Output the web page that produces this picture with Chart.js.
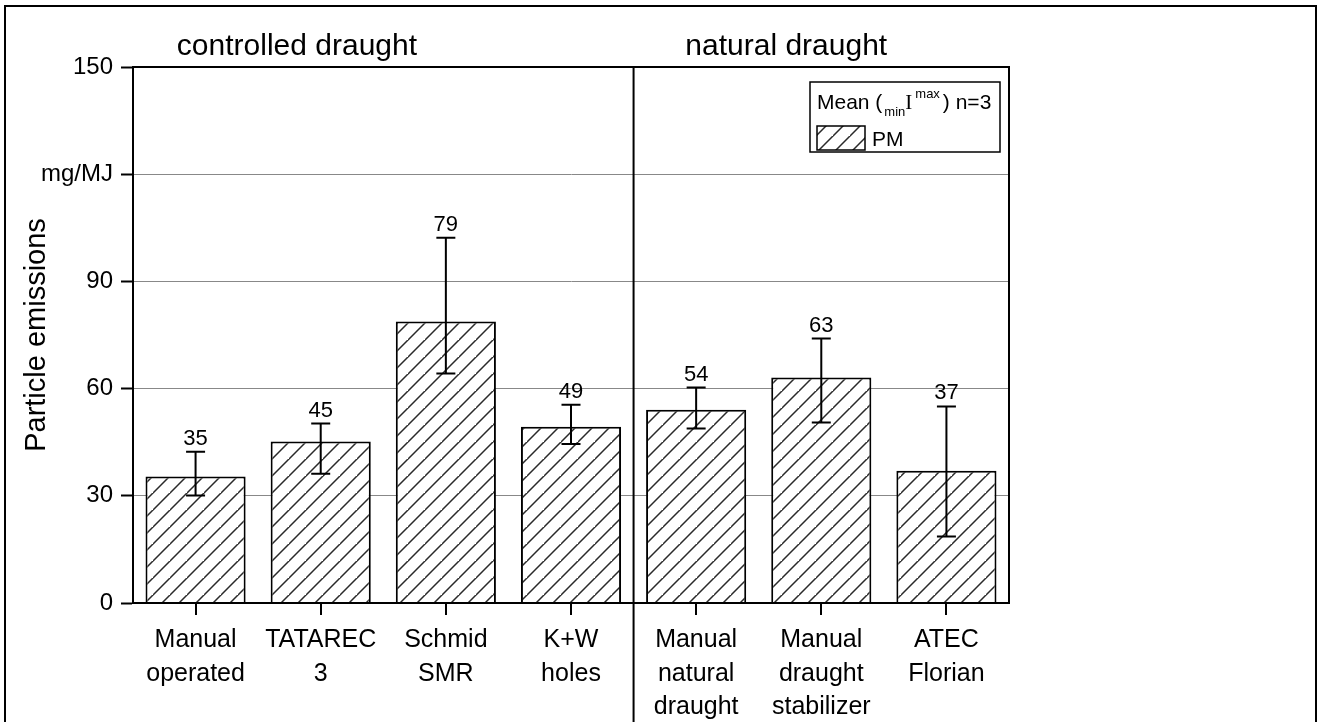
<!DOCTYPE html>
<html><head><meta charset="utf-8">
<script src="https://cdn.jsdelivr.net/npm/chart.js@4"></script>
<style>html,body{margin:0;padding:0;background:#fff;}#wrap{width:1319px;height:722px;position:relative;}</style>
</head><body><div id="wrap"><canvas id="c" width="1319" height="722"></canvas></div>
<script>
const categories = [["Manual","operated"],["TATAREC","3"],["Schmid","SMR"],["K+W","holes"],["Manual","natural","draught"],["Manual","draught","stabilizer"],["ATEC","Florian"]];
const pmMean = [35.4, 45.2, 78.8, 49.3, 54.1, 63.1, 37.0];
const pmMin  = [30.1, 36.2, 64.2, 44.5, 48.8, 50.5, 18.6];
const pmMax  = [42.3, 50.2, 102.2, 55.5, 60.3, 74.0, 55.0];
const yTickValues = [0, 30, 60, 90, 120, 150];
const yTickLabels = ["0", "30", "60", "90", "mg/MJ", "150"];
const groupTitles = ["controlled draught", "natural draught"];
const groupTitlePos = [0.81, 4.72];
const groupBoundary = 3.5;
const seriesName = "PM";

const FONT = "'Liberation Sans', Arial, sans-serif";

function makeHatch() {
  const s = 17;
  const p = document.createElement('canvas');
  p.width = s; p.height = s;
  const g = p.getContext('2d');
  g.fillStyle = '#fff'; g.fillRect(0, 0, s, s);
  g.strokeStyle = '#2a2a2a'; g.lineWidth = 1.5;
  g.beginPath();
  g.moveTo(-2, s + 2); g.lineTo(s + 2, -2);
  g.moveTo(-2 - s, s + 2); g.lineTo(2, -2);
  g.moveTo(s - 2, 2 * s + 2); g.lineTo(2 * s + 2, s - 2);
  g.stroke();
  return document.getElementById('c').getContext('2d').createPattern(p, 'repeat');
}
const hatch = makeHatch();

const decor = {
  id: 'decor',
  afterDatasetsDraw(chart) {
    const ctx = chart.ctx;
    const xs = chart.scales.x, ys = chart.scales.y;
    ctx.save();
    ctx.strokeStyle = '#000'; ctx.lineWidth = 2;
    for (let i = 0; i < pmMean.length; i++) {
      const x = xs.getPixelForValue(i);
      const y1 = ys.getPixelForValue(pmMin[i]), y2 = ys.getPixelForValue(pmMax[i]);
      ctx.beginPath();
      ctx.moveTo(x, y1); ctx.lineTo(x, y2);
      ctx.moveTo(x - 9.5, y1); ctx.lineTo(x + 9.5, y1);
      ctx.moveTo(x - 9.5, y2); ctx.lineTo(x + 9.5, y2);
      ctx.stroke();
      ctx.fillStyle = '#000';
      ctx.font = '22px ' + FONT;
      ctx.textAlign = 'center'; ctx.textBaseline = 'alphabetic';
      ctx.fillText(String(Math.round(pmMean[i])), x, y2 - 7);
    }
    ctx.restore();
  },
  afterDraw(chart) {
    const ctx = chart.ctx, a = chart.chartArea;
    const xs = chart.scales.x;
    ctx.save();
    ctx.strokeStyle = '#000'; ctx.lineWidth = 2;
    ctx.strokeRect(a.left, a.top, a.right - a.left, a.bottom - a.top);
    const sx = xs.getPixelForValue(groupBoundary);
    ctx.beginPath(); ctx.moveTo(sx, a.top); ctx.lineTo(sx, chart.height); ctx.stroke();
    ctx.fillStyle = '#000';
    ctx.font = '30px ' + FONT;
    ctx.textAlign = 'center'; ctx.textBaseline = 'alphabetic';
    for (let i = 0; i < groupTitles.length; i++) {
      ctx.fillText(groupTitles[i], xs.getPixelForValue(groupTitlePos[i]), a.top - 12);
    }
    const lx = 810, ly = 82, lw = 190, lh = 70;
    ctx.fillStyle = '#fff'; ctx.fillRect(lx, ly, lw, lh);
    ctx.lineWidth = 1.5; ctx.strokeStyle = '#000';
    ctx.strokeRect(lx, ly, lw, lh);
    ctx.fillStyle = '#000'; ctx.textAlign = 'left';
    let cx = lx + 7;
    const bl = ly + 27;
    ctx.font = '21px ' + FONT; ctx.fillText('Mean (', cx, bl); cx += ctx.measureText('Mean (').width + 2;
    ctx.font = '13px ' + FONT; ctx.fillText('min', cx, bl + 7); cx += ctx.measureText('min').width;
    ctx.font = "21px 'Liberation Serif', 'Times New Roman', serif"; ctx.fillText('I', cx, bl); cx += ctx.measureText('I').width + 3;
    ctx.font = '13px ' + FONT; ctx.fillText('max', cx, bl - 11); cx += ctx.measureText('max').width + 3;
    ctx.font = '21px ' + FONT; ctx.fillText(') n=3', cx, bl);
    ctx.fillStyle = hatch; ctx.fillRect(lx + 7, ly + 44, 48, 24);
    ctx.strokeRect(lx + 7, ly + 44, 48, 24);
    ctx.fillStyle = '#000'; ctx.font = '21px ' + FONT;
    ctx.fillText(seriesName, lx + 62, ly + 64);
    ctx.lineWidth = 2;
    ctx.strokeRect(5, 6, 1311, 800);
    ctx.restore();
  }
};

new Chart(document.getElementById('c'), {
  type: 'bar',
  data: {
    labels: categories,
    datasets: [{
      label: seriesName,
      data: pmMean,
      backgroundColor: hatch,
      borderColor: '#000',
      borderWidth: 2,
      barPercentage: 0.8,
      categoryPercentage: 1.0
    }]
  },
  options: {
    responsive: false,
    animation: false,
    devicePixelRatio: 1,
    layout: { padding: { left: 0, top: 67, right: 310, bottom: 0 } },
    plugins: { legend: { display: false }, tooltip: { enabled: false } },
    scales: {
      x: {
        offset: true,
        grid: { offset: false, drawOnChartArea: false, drawTicks: true, tickLength: 12, tickColor: '#000', tickWidth: 2, lineWidth: 2 },
        border: { color: '#000', width: 2 },
        ticks: { color: '#000', font: { family: FONT, size: 25, lineHeight: 1.35 }, padding: 8, maxRotation: 0, autoSkip: false },
        afterFit(s) { s.height = 119; }
      },
      y: {
        min: 0, max: 150,
        afterBuildTicks(s) { s.ticks = yTickValues.map(v => ({ value: v })); },
        grid: { color: '#888', lineWidth: 1, tickColor: '#000', tickWidth: 2, tickLength: 12 },
        border: { color: '#000', width: 2 },
        ticks: {
          color: '#000', font: { family: FONT, size: 24 }, padding: 8,
          callback: (v) => { const i = yTickValues.indexOf(v); return i >= 0 ? yTickLabels[i] : ''; }
        },
        title: { display: true, text: 'Particle emissions', color: '#000', font: { family: FONT, size: 29, lineHeight: 1.2 }, padding: { top: 20, bottom: 0 } },
        afterFit(s) { s.width = 133; }
      }
    }
  },
  plugins: [decor]
});
</script>
</body></html>
